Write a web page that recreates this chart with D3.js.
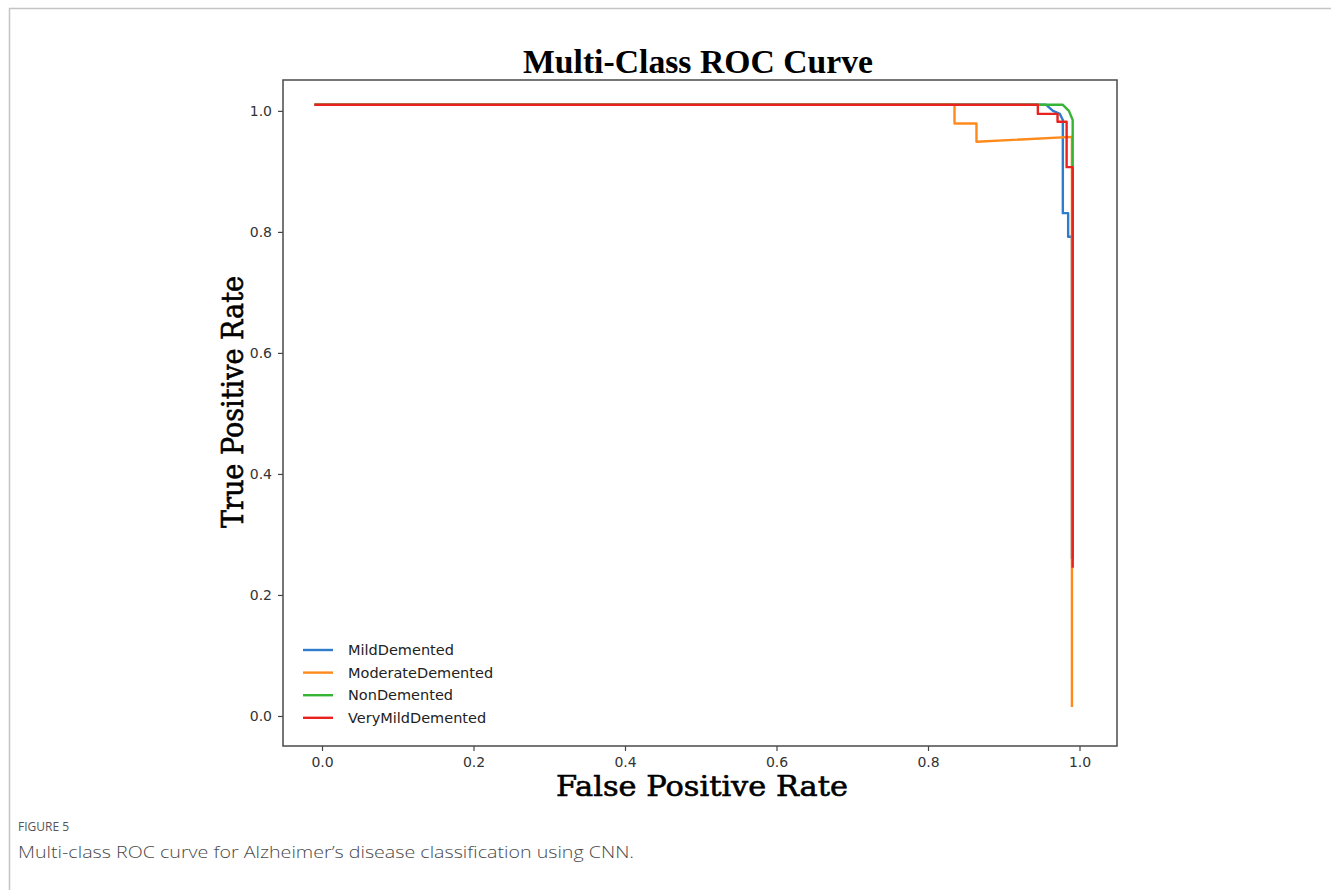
<!DOCTYPE html>
<html>
<head>
<meta charset="utf-8">
<script src="https://cdn.jsdelivr.net/npm/d3@7"></script>
<style>
  body { margin: 0; background: #fff; }
  svg { display: block; }
</style>
</head>
<body>
<svg id="chart" width="1331" height="890"></svg>
<script>
// class names, in legend order
const classes = ["MildDemented", "ModerateDemented", "NonDemented", "VeryMildDemented"];
const colors = ["#2f7bcc", "#ff8a1c", "#36b436", "#e8231f"];

// ROC points (false positive rate / true positive rate)
const mildFpr = [-0.01, 0.956, 0.965, 0.974, 0.978, 0.978, 0.985, 0.985, 0.99, 0.99];
const mildTpr = [1.01, 1.01, 1.0, 0.995, 0.985, 0.831, 0.831, 0.792, 0.792, 0.26];
const moderateFpr = [-0.01, 0.835, 0.835, 0.864, 0.864, 0.99, 0.99];
const moderateTpr = [1.01, 1.01, 0.979, 0.979, 0.949, 0.957, 0.015];
const nonFpr = [-0.01, 0.978, 0.986, 0.991, 0.991, 0.991];
const nonTpr = [1.01, 1.01, 1.0, 0.985, 0.906, 0.26];
const veryMildFpr = [-0.01, 0.945, 0.945, 0.971, 0.971, 0.983, 0.983, 0.991, 0.991];
const veryMildTpr = [1.01, 1.01, 0.995, 0.995, 0.982, 0.982, 0.907, 0.907, 0.245];

const xTicks = [0, 0.2, 0.4, 0.6, 0.8, 1.0];
const yTicks = [0, 0.2, 0.4, 0.6, 0.8, 1.0];

const series = [
  [mildFpr, mildTpr],
  [moderateFpr, moderateTpr],
  [nonFpr, nonTpr],
  [veryMildFpr, veryMildTpr]
].map(([fx, ty], i) => ({
  name: classes[i],
  color: colors[i],
  points: fx.map((v, j) => [v, ty[j]])
}));

const svg = d3.select("#chart");

// figure card border (left + top)
svg.append("path")
  .attr("d", "M9.5,890 V8.5 H1331")
  .attr("fill", "none")
  .attr("stroke", "#c4c4c4")
  .attr("stroke-width", 1.5);

const plot = { left: 283, right: 1117, top: 80, bottom: 746 };

const x = d3.scaleLinear().domain([-0.0515, 1.0495]).range([plot.left, plot.right]);
const y = d3.scaleLinear().domain([-0.0496, 1.051]).range([plot.bottom, plot.top]);

// axes
const xAxis = svg.append("g")
  .attr("transform", `translate(0,${plot.bottom})`)
  .call(d3.axisBottom(x).tickValues(xTicks).tickFormat(d3.format(".1f")).tickSize(5).tickPadding(6));
const yAxis = svg.append("g")
  .attr("transform", `translate(${plot.left},0)`)
  .call(d3.axisLeft(y).tickValues(yTicks).tickFormat(d3.format(".1f")).tickSize(5).tickPadding(6));

[xAxis, yAxis].forEach((g) => {
  g.select(".domain").remove();
  g.selectAll(".tick line").attr("stroke", "#444").attr("stroke-width", 1.2);
  g.selectAll(".tick text")
    .attr("fill", "#333")
    .attr("font-family", "DejaVu Sans, sans-serif")
    .attr("font-size", 14);
});

// frame
svg.append("rect")
  .attr("x", plot.left)
  .attr("y", plot.top)
  .attr("width", plot.right - plot.left)
  .attr("height", plot.bottom - plot.top)
  .attr("fill", "none")
  .attr("stroke", "#4a4a4a")
  .attr("stroke-width", 1.5);

// curves
const line = d3.line().x((d) => x(d[0])).y((d) => y(d[1]));
svg.append("g")
  .selectAll("path")
  .data(series)
  .join("path")
  .attr("fill", "none")
  .attr("stroke", (d) => d.color)
  .attr("stroke-width", 2.4)
  .attr("stroke-linejoin", "round")
  .attr("d", (d) => line(d.points));

// legend
const legend = svg.append("g").attr("transform", "translate(303,650)");
const rows = legend.selectAll("g")
  .data(series)
  .join("g")
  .attr("transform", (d, i) => `translate(0,${i * 22.6})`);
rows.append("line")
  .attr("x1", 0).attr("x2", 30)
  .attr("stroke", (d) => d.color)
  .attr("stroke-width", 2.4);
rows.append("text")
  .attr("x", 45)
  .attr("dy", "0.35em")
  .attr("fill", "#222")
  .attr("font-family", "DejaVu Sans, sans-serif")
  .attr("font-size", 14.5)
  .text((d) => d.name);

// title
svg.append("text")
  .attr("x", 698)
  .attr("y", 73)
  .attr("text-anchor", "middle")
  .attr("font-family", "Liberation Serif, serif")
  .attr("font-weight", "bold")
  .attr("font-size", 33)
  .attr("textLength", 350)
  .attr("lengthAdjust", "spacingAndGlyphs")
  .text("Multi-Class ROC Curve");

// axis labels
svg.append("text")
  .attr("x", 702)
  .attr("y", 796)
  .attr("text-anchor", "middle")
  .attr("font-family", "DejaVu Serif, serif")
  .attr("font-size", 28)
  .attr("stroke", "#000")
  .attr("stroke-width", 0.6)
  .attr("textLength", 292)
  .attr("lengthAdjust", "spacingAndGlyphs")
  .text("False Positive Rate");

svg.append("text")
  .attr("transform", "translate(243,402) rotate(-90)")
  .attr("text-anchor", "middle")
  .attr("font-family", "DejaVu Serif, serif")
  .attr("font-size", 29)
  .attr("stroke", "#000")
  .attr("stroke-width", 0.6)
  .attr("textLength", 252)
  .attr("lengthAdjust", "spacingAndGlyphs")
  .text("True Positive Rate");

// caption
svg.append("text")
  .attr("x", 18)
  .attr("y", 831)
  .attr("fill", "#555")
  .attr("font-family", "Open Sans, sans-serif")
  .attr("font-size", 12)
  .text("FIGURE 5");

svg.append("text")
  .attr("x", 18)
  .attr("y", 858)
  .attr("fill", "#4a4a4a")
  .attr("font-family", "Open Sans, sans-serif")
  .attr("font-weight", 300)
  .attr("font-size", 17)
  .attr("textLength", 616)
  .attr("lengthAdjust", "spacingAndGlyphs")
  .text("Multi-class ROC curve for Alzheimer\u2019s disease classification using CNN.");
</script>
</body>
</html>
